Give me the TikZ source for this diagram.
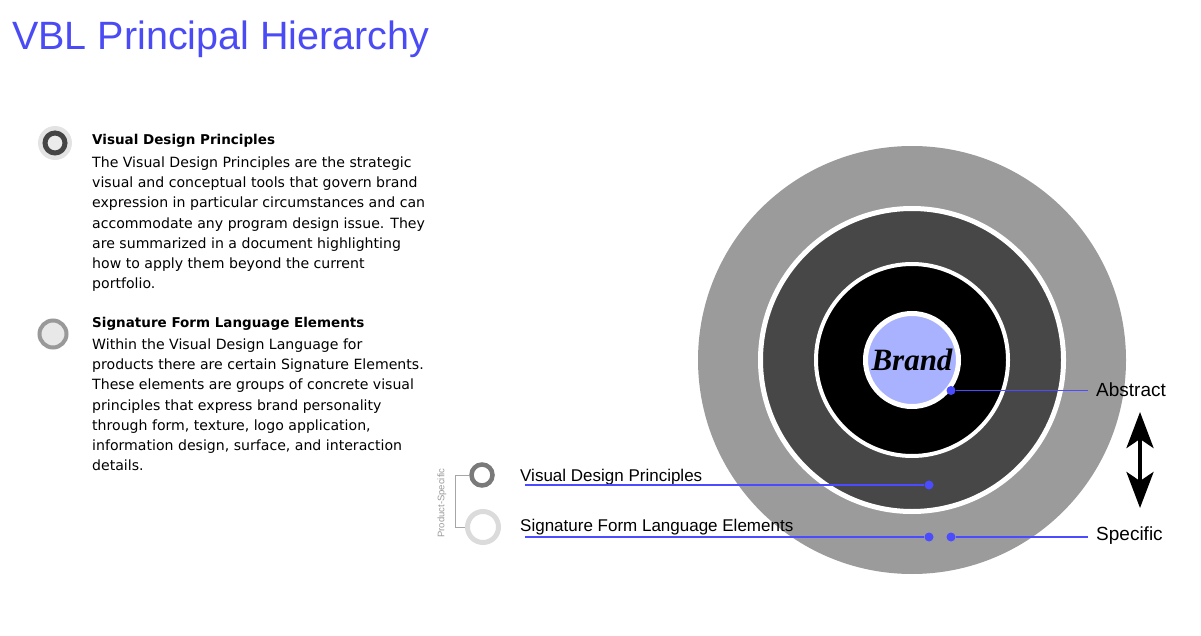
\documentclass[tikz,border=0pt]{standalone}
\usepackage{fontspec}
\setmainfont{Liberation Sans}
\newfontfamily\brandfont{Liberation Serif}
\newfontfamily\descfont{DejaVu Sans}
\usetikzlibrary{arrows.meta,positioning}

\definecolor{titleblue}{HTML}{4B4BF5}
\definecolor{linkblue}{HTML}{4B4BFF}
\definecolor{brandfill}{HTML}{A8B2FF}
\definecolor{outergrey}{HTML}{9B9B9B}
\definecolor{midgrey}{HTML}{474747}
\definecolor{ringdark}{HTML}{444444}

\begin{document}
\begin{tikzpicture}[
  x=1pt, y=-1pt,
  ring/.style={circle, inner sep=0pt},
  link/.style={draw=linkblue, line width=1.3pt},
  dot/.style={circle, fill=linkblue, inner sep=0pt, minimum size=9pt},
  lbl/.style={font=\fontsize{17}{20}\selectfont, inner sep=0pt},
  side/.style={font=\fontsize{19}{22}\selectfont, inner sep=0pt},
  head/.style={font=\descfont\fontsize{13.5}{16}\selectfont\bfseries, inner sep=0pt},
  body/.style={font=\descfont\fontsize{14.1}{20.2}\selectfont, align=left, inner sep=0pt},
  bracket/.style={draw=black!35, line width=1pt},
  updown/.style={{Stealth[length=36pt,width=27pt,inset=9pt]}-{Stealth[length=36pt,width=27pt,inset=9pt]}, line width=4pt}
]
\useasboundingbox (0,0) rectangle (1201,636);

\node[anchor=base west, inner sep=0pt, text=titleblue, font=\fontsize{39.5}{42}\selectfont] (title) at (12,50) {VBL Principal Hierarchy};

% left column
\node[ring, fill=black!11, minimum size=34pt] (bvdp) at (55,143) {};
\node[ring, draw=ringdark, line width=5pt, fill=black!8, minimum size=20pt] (bvdpring) at (bvdp) {};
\node[head, anchor=base west] (hvdp) at (92,145) {Visual Design Principles};
\node[body, below right=8.5pt and 0pt of hvdp.south west] (tvdp) {The Visual Design Principles are the strategic\\
visual and conceptual tools that govern brand\\
expression in particular circumstances and can\\
accommodate any program design issue. They\\
are summarized in a document highlighting\\
how to apply them beyond the current\\
portfolio.};

\node[ring, draw=black!40, line width=4pt, fill=black!9, minimum size=27pt] (bsig) at (53,334) {};
\node[head, anchor=base west] (hsig) at (92,327) {Signature Form Language Elements};
\node[body, below right=8.5pt and 0pt of hsig.south west] (tsig) {Within the Visual Design Language for\\
products there are certain Signature Elements.\\
These elements are groups of concrete visual\\
principles that express brand personality\\
through form, texture, logo application,\\
information design, surface, and interaction\\
details.};

% rings
\node[ring, fill=outergrey, minimum size=428pt] (outer) at (912,360) {};
\node[ring, fill=midgrey, draw=white, line width=5pt, minimum size=303pt] (mid) at (outer) {};
\node[ring, fill=black, draw=white, line width=4pt, minimum size=192pt] (inner) at (outer) {};
\node[ring, fill=brandfill, draw=white, line width=5pt, minimum size=93pt,
  font=\brandfont\bfseries\itshape\fontsize{31}{31}\selectfont] (brand) at (outer) {Brand};

% legend
\node[ring, draw=black!52, line width=4.5pt, minimum size=21pt] (ivdp) at (482,475) {};
\node[ring, draw=black!14, line width=5pt, minimum size=31pt] (isig) at (483,527) {};
\draw[bracket] (ivdp.west) -- ++(-14,0) |- (isig.west);
\node[rotate=90, text=black!40, font=\fontsize{9.5}{10}\selectfont, inner sep=0pt] (prodspec) at (442,503) {Product-Specific};
\node[lbl, anchor=base west] (lvdp) at (520,481) {Visual Design Principles};
\node[lbl, anchor=base west] (lsig) at (520,531) {Signature Form Language Elements};

% pointers
\node[dot] (dbrand) at (951,390.5) {};
\node[dot] (dvdp) at (929,485) {};
\node[dot] (dsig) at (929,537) {};
\node[dot] (dspec) at (951,537) {};
\coordinate (vdpstart) at (525,485);
\coordinate (sigstart) at (525,537);
\coordinate (absend) at (1088,390.5);
\coordinate (specend) at (1088,537);
\draw[link] (vdpstart) -- (dvdp);
\draw[link] (sigstart) -- (dsig);
\draw[link] (dbrand) -- (absend);
\draw[link] (dspec) -- (specend);
\node[side, anchor=west] (abstract) at (1096,390) {Abstract};
\node[side, anchor=west] (specific) at (1096,536) {Specific};

\coordinate (uptip) at (1140,412);
\coordinate (downtip) at (1140,508);
\draw[updown] (uptip) -- (downtip);
\end{tikzpicture}
\end{document}
